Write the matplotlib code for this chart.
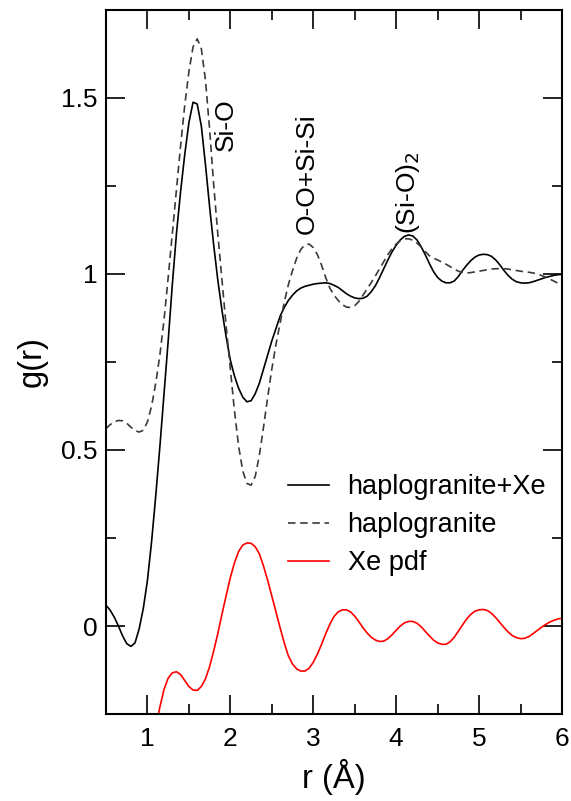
import numpy as np
import matplotlib
matplotlib.use("Agg")
import matplotlib.pyplot as plt
from matplotlib.ticker import MultipleLocator, FuncFormatter

plt.rcParams['font.family'] = ['Liberation Sans', 'DejaVu Sans']

# r grid (Å)
r = [round(0.5 + 0.05 * i, 2) for i in range(111)]

hg_xe = [0.059, 0.045, 0.025, 0.0, -0.028, -0.05, -0.058, -0.048, -0.008, 0.05,
         0.13, 0.24, 0.37, 0.51, 0.66, 0.81, 0.97, 1.115, 1.235, 1.34,
         1.43, 1.488, 1.483, 1.42, 1.31, 1.19, 1.08, 0.98, 0.895, 0.82,
         0.755, 0.71, 0.675, 0.65, 0.637, 0.64, 0.66, 0.69, 0.73, 0.77,
         0.81, 0.845, 0.88, 0.905, 0.925, 0.94, 0.952, 0.96, 0.965, 0.968,
         0.971, 0.973, 0.974, 0.975, 0.973, 0.968, 0.962, 0.953, 0.944, 0.937,
         0.932, 0.93, 0.931, 0.937, 0.95, 0.967, 0.99, 1.015, 1.04, 1.063,
         1.082, 1.097, 1.107, 1.111, 1.108, 1.097, 1.078, 1.055, 1.03, 1.007,
         0.99, 0.98, 0.975, 0.975, 0.98, 0.993, 1.01, 1.025, 1.038, 1.048,
         1.054, 1.056, 1.055, 1.05, 1.04, 1.026, 1.01, 0.996, 0.985, 0.978,
         0.975, 0.974, 0.975, 0.978, 0.982, 0.986, 0.99, 0.993, 0.996, 0.998,
         0.999]

hg = [0.561, 0.572, 0.58, 0.584, 0.583, 0.576, 0.565, 0.555, 0.551, 0.556,
      0.58, 0.625, 0.69, 0.77, 0.87, 0.99, 1.115, 1.24, 1.365, 1.48,
      1.575, 1.645, 1.668, 1.64, 1.55, 1.41, 1.25, 1.11, 0.98, 0.85,
      0.73, 0.61, 0.51, 0.44, 0.405, 0.40, 0.425, 0.485, 0.565, 0.65,
      0.73, 0.80, 0.86, 0.92, 0.97, 1.01, 1.045, 1.07, 1.083, 1.085,
      1.075, 1.055, 1.025, 0.99, 0.96, 0.94, 0.925, 0.913, 0.906, 0.905,
      0.91, 0.922, 0.94, 0.958, 0.976, 0.995, 1.015, 1.035, 1.055, 1.072,
      1.085, 1.095, 1.1, 1.1, 1.096, 1.088, 1.077, 1.064, 1.052, 1.045,
      1.04, 1.034, 1.028, 1.021, 1.014, 1.008, 1.004, 1.003, 1.004, 1.006,
      1.008, 1.01, 1.012, 1.014, 1.015, 1.015, 1.015, 1.014, 1.012, 1.01,
      1.008, 1.006, 1.005, 1.003, 1.0, 0.996, 0.991, 0.986, 0.98, 0.974,
      0.968]

r_xe = [round(1.1 + 0.05 * i, 2) for i in range(99)]
xe_pdf = [-0.29, -0.23, -0.18, -0.148, -0.133, -0.13, -0.138, -0.155, -0.172, -0.182,
          -0.183, -0.172, -0.15, -0.115, -0.07, -0.02, 0.035, 0.087, 0.138, 0.18,
          0.212, 0.23, 0.236, 0.235, 0.225, 0.205, 0.17, 0.13, 0.085, 0.04,
          -0.005, -0.048, -0.085, -0.108, -0.122, -0.128, -0.128, -0.12, -0.103, -0.08,
          -0.052, -0.022, 0.005, 0.027, 0.04, 0.046, 0.046, 0.04, 0.028, 0.012,
          -0.005, -0.02, -0.032, -0.04, -0.044, -0.043, -0.036, -0.025, -0.012, 0.0,
          0.009, 0.013, 0.013, 0.008, -0.002, -0.015, -0.028, -0.04, -0.048, -0.052,
          -0.052, -0.045, -0.032, -0.015, 0.003, 0.02, 0.033, 0.042, 0.046, 0.047,
          0.044, 0.036, 0.024, 0.01, -0.004, -0.017, -0.027, -0.033, -0.036, -0.035,
          -0.03, -0.022, -0.013, -0.004, 0.004, 0.011, 0.016, 0.02, 0.022]

labels = ["haplogranite+Xe", "haplogranite", "Xe pdf"]
peak_labels = ["Si-O", "O-O+Si-Si", r"(Si-O)$_2$"]
peak_pos = [(1.95, 1.35), (2.92, 1.115), (4.14, 1.115)]

fig = plt.figure(figsize=(5.71, 8.01), dpi=100)
ax = fig.add_axes([106 / 571, 1 - 714 / 801, (562 - 106) / 571, (714 - 10) / 801])

ax.plot(r[:len(hg_xe)], hg_xe, color='black', lw=1.2, label=labels[0])
ax.plot(r[:len(hg)], hg, color='#3a3a3a', lw=1.2, ls=(0, (4.5, 2.8)), label=labels[1])
ax.plot(r_xe[:len(xe_pdf)], xe_pdf, color='red', lw=1.2, label=labels[2])

ax.set_xlim(0.5, 6)
ax.set_ylim(-0.25, 1.75)

ax.xaxis.set_major_locator(MultipleLocator(1))
ax.xaxis.set_minor_locator(MultipleLocator(0.5))
ax.yaxis.set_major_locator(MultipleLocator(0.5))
ax.yaxis.set_minor_locator(MultipleLocator(0.25))
fmt = FuncFormatter(lambda v, p: ('%g' % round(v, 2)))
ax.xaxis.set_major_formatter(fmt)
ax.yaxis.set_major_formatter(fmt)

ax.tick_params(which='both', direction='in', top=True, right=True, width=1.2, labelsize=19)
ax.tick_params(which='major', length=14)
ax.tick_params(which='minor', length=7)
ax.tick_params(axis='x', pad=9)
ax.tick_params(axis='y', pad=6)
for s in ax.spines.values():
    s.set_linewidth(1.5)

ax.set_xlabel('r (Å)', fontsize=23.5, labelpad=6)
ax.set_ylabel('g(r)', fontsize=23.5, labelpad=10)

for txt, (x, y) in zip(peak_labels, peak_pos):
    ax.text(x, y, txt, rotation=90, ha='center', va='bottom', fontsize=19)

leg = ax.legend(loc='upper left', bbox_to_anchor=(288 / 571, 1 - 474 / 801),
                bbox_transform=fig.transFigure, frameon=False, fontsize=19.5,
                handlelength=1.5, handletextpad=0.7, labelspacing=0.45,
                borderpad=0, borderaxespad=0)

fig.savefig('out.png', dpi=100)
